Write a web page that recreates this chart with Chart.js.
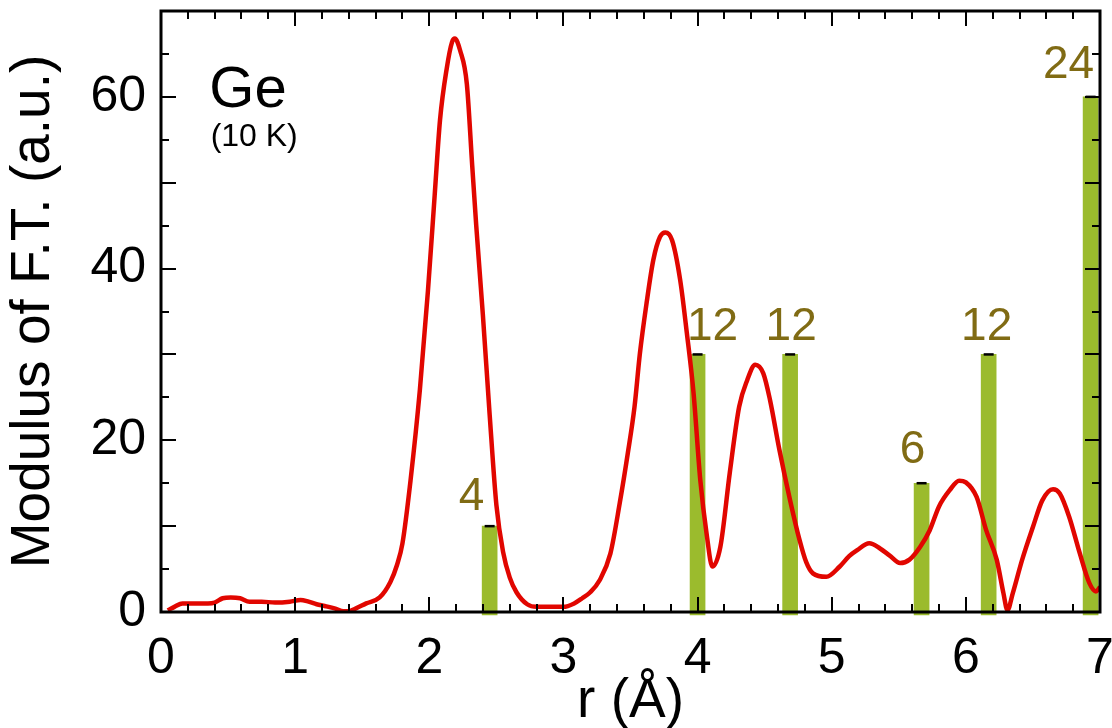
<!DOCTYPE html>
<html>
<head>
<meta charset="utf-8">
<script src="https://cdn.jsdelivr.net/npm/chart.js@4.4.1/dist/chart.umd.min.js"></script>
<style>
  html, body { margin: 0; padding: 0; background: #ffffff; }
  #wrap { width: 1112px; height: 728px; position: relative; }
</style>
</head>
<body>
<div id="wrap"><canvas id="c" width="1112" height="728"></canvas></div>
<script>
// ---- Data ----
const rValues = [0.05,0.10,0.16,0.25,0.35,0.40,0.46,0.52,0.59,0.66,0.75,0.85,0.96,1.04,1.10,1.16,1.22,1.30,1.36,1.40,1.45,1.53,1.63,1.71,1.76,1.80,1.86,1.93,1.99,2.04,2.08,2.13,2.17,2.19,2.23,2.28,2.32,2.35,2.40,2.45,2.50,2.55,2.60,2.65,2.73,2.80,2.90,3.00,3.08,3.14,3.20,3.27,3.35,3.42,3.48,3.53,3.57,3.62,3.67,3.72,3.76,3.81,3.87,3.92,3.97,4.02,4.07,4.11,4.17,4.24,4.31,4.37,4.43,4.49,4.54,4.61,4.69,4.76,4.81,4.86,4.96,5.06,5.13,5.19,5.28,5.36,5.43,5.51,5.58,5.66,5.73,5.80,5.88,5.95,6.00,6.08,6.15,6.23,6.28,6.31,6.35,6.42,6.50,6.57,6.65,6.70,6.77,6.85,6.92,6.97,7.00];
const modulusFT = [0.2,0.6,1.0,1.0,1.0,1.1,1.6,1.7,1.6,1.2,1.2,1.1,1.2,1.4,1.2,0.9,0.7,0.4,0.1,0.1,0.4,1.0,1.7,3.5,5.5,8.0,15.3,25.9,37.4,48.5,57.3,63.3,66.4,66.8,65.4,61.5,52.0,45.0,34.5,23.0,12.5,7.0,4.0,2.3,0.9,0.6,0.6,0.6,1.0,1.6,2.3,3.7,6.8,12.7,18.5,23.9,30.1,36.0,41.0,43.7,44.2,43.3,38.7,32.5,25.5,15.4,8.8,5.3,7.6,16.2,23.9,27.0,28.8,27.8,24.7,18.9,13.0,8.4,5.8,4.5,4.1,5.3,6.5,7.2,8.0,7.4,6.6,5.7,6.1,7.6,9.5,12.3,14.2,15.3,15.1,13.4,9.6,6.1,2.2,0.2,2.2,6.1,9.9,13.0,14.3,13.8,11.1,6.8,3.4,2.4,2.9];

// crystal shells of Ge: distance, coordination number, bar height
const shellR = [2.45, 4.00, 4.69, 5.67, 6.17, 6.93];
const shellN = ["4", "12", "12", "6", "12", "24"];
const shellHeight = [10, 30, 30, 15, 30, 60];
const barBase = -0.35;

const xTickLabels = ["0","1","2","3","4","5","6","7"];
const yTickLabels = ["0","20","40","60"];

const sampleName = "Ge";
const sampleTemp = "(10 K)";

// ---- Styles ----
const RED = "#e10600";
const GREEN = "#9bbb2d";
const OLIVE = "#806b14";
const FONT = "'Liberation Sans', Arial, Helvetica, sans-serif";
const labelShiftPx = [-18, 15, 1, -9, -2, -22];
const labelGapPx = [16, 14, 14, 20, 14, 19];

const curve = rValues.map((r, i) => ({ x: r, y: modulusFT[i] }));
const bars = shellR.map((r, i) => ({ x: r, y: [barBase, shellHeight[i]] }));
const caps = shellR.map((r, i) => ({ x: r, y: shellHeight[i] }));

const noPad = (s) => { s.paddingLeft = 0; s.paddingRight = 0; s.paddingTop = 0; s.paddingBottom = 0; };

const framePlugin = {
  id: 'frameTicks',
  afterDatasetsDraw(chart) {
    const { ctx, chartArea: a, scales: { x, y } } = chart;
    ctx.save();
    ctx.strokeStyle = '#000';
    ctx.lineWidth = 2;
    ctx.beginPath();
    for (let i = 0; i <= 35; i++) {
      const v = i * 0.2;
      const px = Math.round(x.getPixelForValue(v));
      const len = (i % 5 === 0) ? 15 : 8;
      ctx.moveTo(px, a.bottom); ctx.lineTo(px, a.bottom - len);
      ctx.moveTo(px, a.top); ctx.lineTo(px, a.top + len);
    }
    for (let i = 0; i <= 14; i++) {
      const v = i * 5;
      const py = Math.round(y.getPixelForValue(v));
      const len = (i % 2 === 0) ? 15 : 8;
      ctx.moveTo(a.left, py); ctx.lineTo(a.left + len, py);
      ctx.moveTo(a.right, py); ctx.lineTo(a.right - len, py);
    }
    ctx.stroke();
    ctx.lineWidth = 3;
    ctx.strokeRect(a.left, a.top, a.right - a.left, a.bottom - a.top);

    ctx.fillStyle = OLIVE;
    ctx.font = "46px " + FONT;
    ctx.textAlign = 'center';
    ctx.textBaseline = 'alphabetic';
    shellR.forEach((r, i) => {
      const px = x.getPixelForValue(r) + labelShiftPx[i];
      const py = y.getPixelForValue(shellHeight[i]) - labelGapPx[i];
      ctx.fillText(shellN[i], px, py);
    });

    ctx.fillStyle = '#000';
    ctx.textAlign = 'left';
    ctx.font = "58px " + FONT;
    ctx.fillText(sampleName, x.getPixelForValue(0.36), y.getPixelForValue(58.8));
    ctx.font = "32px " + FONT;
    ctx.fillText(sampleTemp, x.getPixelForValue(0.37), y.getPixelForValue(54.3));
    ctx.restore();
  }
};

new Chart(document.getElementById('c'), {
  type: 'line',
  data: {
    datasets: [
      {
        type: 'line', data: curve, borderColor: RED, borderWidth: 4.5,
        pointRadius: 0, cubicInterpolationMode: 'monotone', order: 0
      },
      {
        type: 'scatter', data: caps, pointStyle: 'line', pointRadius: 5,
        borderColor: '#000', borderWidth: 2.5, backgroundColor: '#000', order: 1, clip: false
      },
      {
        type: 'bar', data: bars, backgroundColor: GREEN, borderWidth: 0,
        barThickness: 15, order: 2, clip: false
      }
    ]
  },
  options: {
    responsive: false,
    animation: false,
    events: [],
    layout: { padding: { left: 0, right: 12, top: 11, bottom: 0 } },
    plugins: { legend: { display: false }, tooltip: { enabled: false } },
    scales: {
      x: {
        type: 'linear', min: 0, max: 7, offset: false,
        grid: { display: false, drawTicks: false },
        border: { display: false },
        ticks: {
          stepSize: 1, padding: 17, color: '#000',
          font: { family: FONT, size: 50 },
          callback: (v) => xTickLabels[Math.round(v)] ?? ''
        },
        title: { display: true, text: 'r (Å)', color: '#000', font: { family: FONT, size: 55 }, padding: { top: 0, bottom: -7 } },
        afterFit: (s) => { s.height = 116; noPad(s); }
      },
      y: {
        type: 'linear', min: 0, max: 70,
        grid: { display: false, drawTicks: false },
        border: { display: false },
        ticks: {
          stepSize: 20, includeBounds: false, padding: 15, color: '#000',
          font: { family: FONT, size: 50 },
          callback: (v) => yTickLabels[Math.round(v / 20)] ?? ''
        },
        title: { display: true, text: 'Modulus of F.T. (a.u.)', color: '#000', font: { family: FONT, size: 55 }, padding: { top: 1, bottom: 0 } },
        afterFit: (s) => { s.width = 161; noPad(s); }
      }
    }
  },
  plugins: [framePlugin]
});
</script>
</body>
</html>
